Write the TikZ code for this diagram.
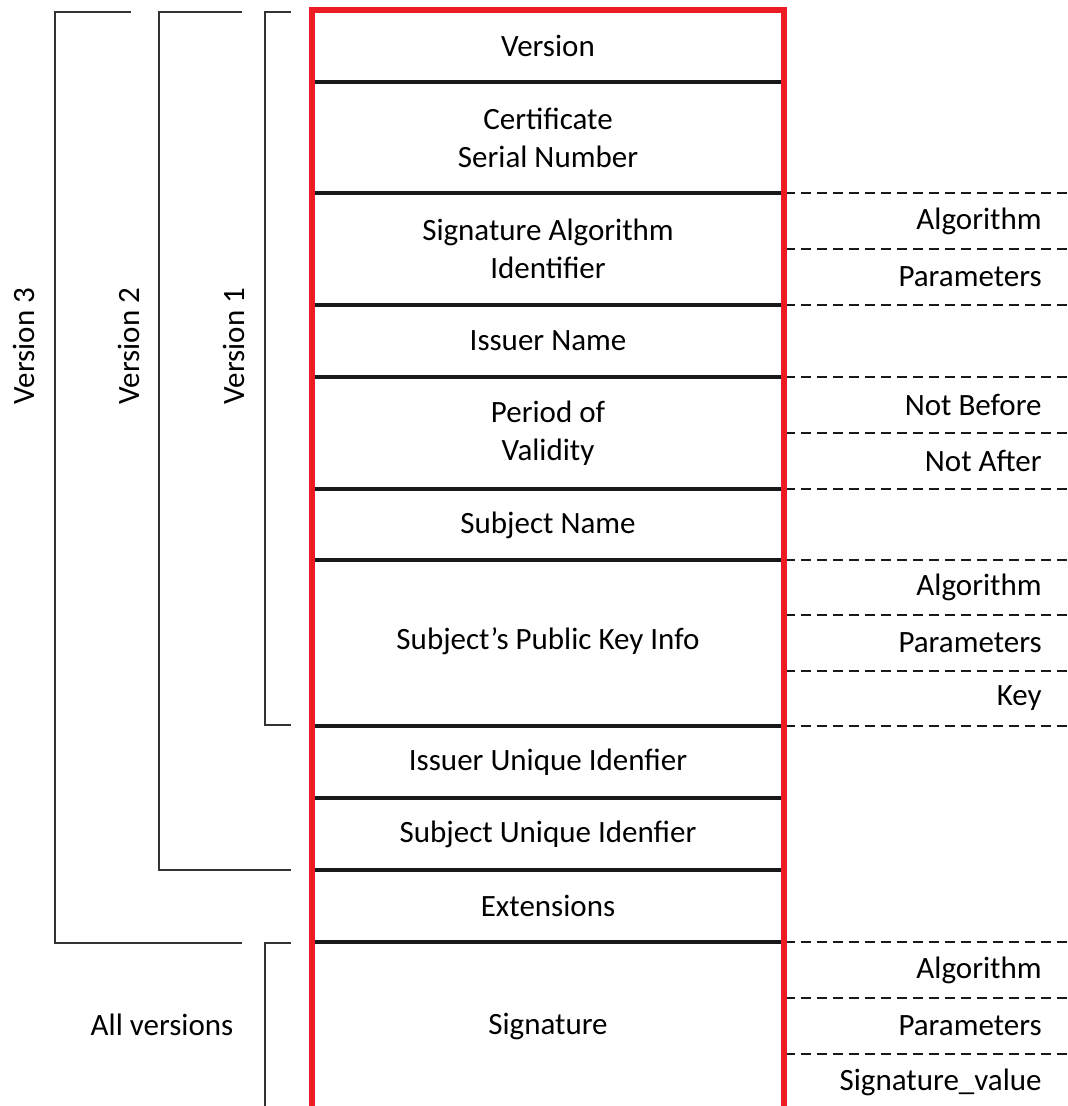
\documentclass[tikz,border=0pt]{standalone}
\usepackage{fontspec}
\setmainfont{Carlito}
\usetikzlibrary{positioning}
\definecolor{certred}{HTML}{ED1C24}
\tikzset{field/.style={align=center,inner sep=0pt,font=\fontsize{15.5}{19}\selectfont},sub/.style={anchor=east,inner sep=0pt,font=\fontsize{15.5}{19}\selectfont},rowline/.style={line width=1.6pt,draw=black!90},subline/.style={line width=1.4pt,draw=black!90,dash pattern=on 5pt off 3pt},frame/.style={draw=certred,line width=2.6pt},brace/.style={draw=black!80,line width=1pt},vlabel/.style={rotate=90,inner sep=0pt,font=\fontsize{15.5}{19}\selectfont}}

\begin{document}
\begin{tikzpicture}[x=0.5pt,y=-0.5pt]
\useasboundingbox (0,0) rectangle (1068,1106);
\node[field] (ver) at (548,46) {Version};
\node[field] (serial) at (548,138) {Certificate\\Serial Number};
\node[field] (sigalg) at (548,249) {Signature Algorithm\\Identifier};
\node[field] (issuer) at (548,341) {Issuer Name};
\node[field] (valid) at (548,433) {Period of\\Validity};
\node[field] (subject) at (548,525) {Subject Name};
\node[field] (spki) at (548,641) {Subject’s Public Key Info};
\node[field] (iuid) at (548,762) {Issuer Unique Idenfier};
\node[field] (suid) at (548,834) {Subject Unique Idenfier};
\node[field] (ext) at (548,906) {Extensions};
\node[field] (sig) at (548,1026) {Signature};
\foreach \y in {82,193,305,377,489,560,726,798,870,942}
  \draw[rowline] (311,\y) -- (785,\y);
\foreach \y in {193,249,305,377,433,489,560,615,671,726,942,998,1054}
  \draw[subline] (785,\y) -- (1068,\y);
\node[sub] (alg1) at (1042,221) {Algorithm};
\node[sub] (par1) at (1042,277) {Parameters};
\node[sub] (nb) at (1042,405) {Not Before};
\node[sub] (na) at (1042,461) {Not After};
\node[sub] (alg2) at (1042,587) {Algorithm};
\node[sub] (par2) at (1042,643) {Parameters};
\node[sub] (key) at (1042,698) {Key};
\node[sub] (alg3) at (1042,970) {Algorithm};
\node[sub] (par3) at (1042,1026) {Parameters};
\node[sub] (sigval) at (1042,1082) {Signature\_value};
\draw[frame] (312,1110) -- (312,10) -- (784,10) -- (784,1110);
\draw[brace] (131,12) -- (55,12) -- (55,943) -- (242,943);
\draw[brace] (242,12) -- (159,12) -- (159,870) -- (291,870);
\draw[brace] (291,12) -- (265,12) -- (265,725) -- (291,725);
\draw[brace] (291,943) -- (265,943) -- (265,1110);
\node[vlabel] (v3) at (24,346) {Version 3};
\node[vlabel] (v2) at (129,346) {Version 2};
\node[vlabel] (v1) at (234,346) {Version 1};
\node[field] (all) at (162,1025) {All versions};
\end{tikzpicture}
\end{document}
